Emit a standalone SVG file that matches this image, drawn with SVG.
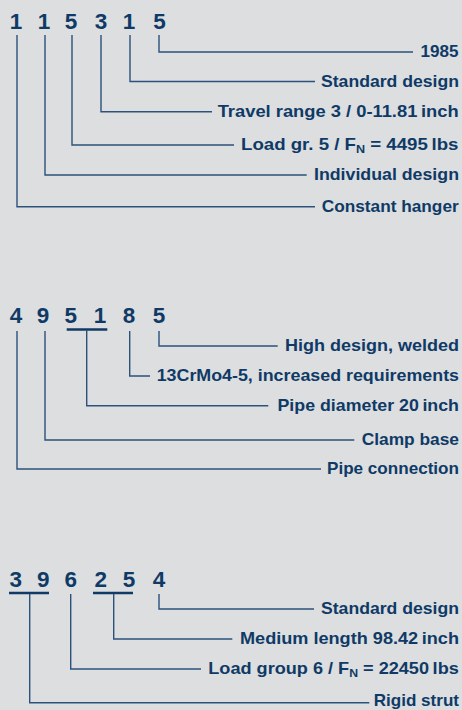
<svg xmlns="http://www.w3.org/2000/svg" width="462" height="710" viewBox="0 0 462 710">
<style>
.bg{fill:#dcdee0}
.dg{font-family:"Liberation Sans",Arial,sans-serif;font-weight:bold;font-size:22.5px;fill:#0f3a66;text-anchor:middle}
.lb{font-family:"Liberation Sans",Arial,sans-serif;font-weight:bold;font-size:17px;fill:#0f3a66}
.sub{font-size:11.5px}
.ln{fill:none;stroke:#2c527c;stroke-width:1.4}
.ul{fill:none;stroke:#0f3a66;stroke-width:2.4}
</style>
<rect class="bg" x="0" y="0" width="462" height="710"/>

<g id="connectors">
  <path class="ln" d="M159 35V52H413"/>
  <path class="ln" d="M130 35V81.5H315"/>
  <path class="ln" d="M101 35V111.7H212"/>
  <path class="ln" d="M72 35V145H234"/>
  <path class="ln" d="M45 35V175H306.7"/>
  <path class="ln" d="M17 35V206.7H315"/>

  <path class="ul" d="M66.7 329.5H107.3"/>
  <path class="ln" d="M159 331V346H277.7"/>
  <path class="ln" d="M129.7 331V376H150"/>
  <path class="ln" d="M86.7 330V405.7H268.3"/>
  <path class="ln" d="M45 331V440H354.3"/>
  <path class="ln" d="M17 331V469H321"/>

  <path class="ul" d="M9 593H49"/>
  <path class="ul" d="M93 593H133"/>
  <path class="ln" d="M159 594V609H314"/>
  <path class="ln" d="M113.7 594V639H232.3"/>
  <path class="ln" d="M70.7 594V669H201"/>
  <path class="ln" d="M29.7 594V702.7H369.3"/>
</g>

<g id="code1">
  <text class="dg" x="16" y="29">1</text>
  <text class="dg" x="44" y="29">1</text>
  <text class="dg" x="71" y="29">5</text>
  <text class="dg" x="101" y="29">3</text>
  <text class="dg" x="129" y="29">1</text>
  <text class="dg" x="159.5" y="29">5</text>
</g>
<g id="label1-1985"><text class="lb" x="420.5" y="57" textLength="38" lengthAdjust="spacingAndGlyphs">1985</text></g>
<g id="label1-standard"><text class="lb" x="321" y="86.5" textLength="138" lengthAdjust="spacingAndGlyphs">Standard design</text></g>
<g id="label1-travel"><text class="lb" x="217.7" y="116.7" textLength="241" lengthAdjust="spacingAndGlyphs">Travel range 3 / 0-11.81&#8201;inch</text></g>
<g id="label1-load"><text class="lb" x="241" y="150" textLength="217.5" lengthAdjust="spacingAndGlyphs">Load gr. 5 / F<tspan class="sub" dy="3">N</tspan><tspan dy="-3"> = 4495&#8201;lbs</tspan></text></g>
<g id="label1-individual"><text class="lb" x="314" y="180" textLength="145" lengthAdjust="spacingAndGlyphs">Individual design</text></g>
<g id="label1-constant"><text class="lb" x="321.7" y="211.5" textLength="137" lengthAdjust="spacingAndGlyphs">Constant hanger</text></g>

<g id="code2">
  <text class="dg" x="16" y="323">4</text>
  <text class="dg" x="43" y="323">9</text>
  <text class="dg" x="70.7" y="323">5</text>
  <text class="dg" x="100" y="323">1</text>
  <text class="dg" x="129" y="323">8</text>
  <text class="dg" x="159" y="323">5</text>
</g>
<g id="label2-high"><text class="lb" x="285" y="351" textLength="174" lengthAdjust="spacingAndGlyphs">High design, welded</text></g>
<g id="label2-material"><text class="lb" x="156.7" y="381" textLength="302.3" lengthAdjust="spacingAndGlyphs">13CrMo4-5, increased requirements</text></g>
<g id="label2-pipe"><text class="lb" x="277.5" y="410.7" textLength="181.5" lengthAdjust="spacingAndGlyphs">Pipe diameter 20&#8201;inch</text></g>
<g id="label2-clamp"><text class="lb" x="361.7" y="445" textLength="97.3" lengthAdjust="spacingAndGlyphs">Clamp base</text></g>
<g id="label2-connection"><text class="lb" x="327" y="474" textLength="132" lengthAdjust="spacingAndGlyphs">Pipe connection</text></g>

<g id="code3">
  <text class="dg" x="15.7" y="587">3</text>
  <text class="dg" x="43.3" y="587">9</text>
  <text class="dg" x="70.7" y="587">6</text>
  <text class="dg" x="100.7" y="587">2</text>
  <text class="dg" x="129" y="587">5</text>
  <text class="dg" x="159" y="587">4</text>
</g>
<g id="label3-standard"><text class="lb" x="321" y="614" textLength="138" lengthAdjust="spacingAndGlyphs">Standard design</text></g>
<g id="label3-medium"><text class="lb" x="240" y="644" textLength="219" lengthAdjust="spacingAndGlyphs">Medium length 98.42&#8201;inch</text></g>
<g id="label3-load"><text class="lb" x="208.3" y="674" textLength="250.5" lengthAdjust="spacingAndGlyphs">Load group 6 / F<tspan class="sub" dy="3">N</tspan><tspan dy="-3"> = 22450&#8201;lbs</tspan></text></g>
<g id="label3-rigid"><text class="lb" x="373.7" y="706" textLength="85.3" lengthAdjust="spacingAndGlyphs">Rigid strut</text></g>
</svg>
